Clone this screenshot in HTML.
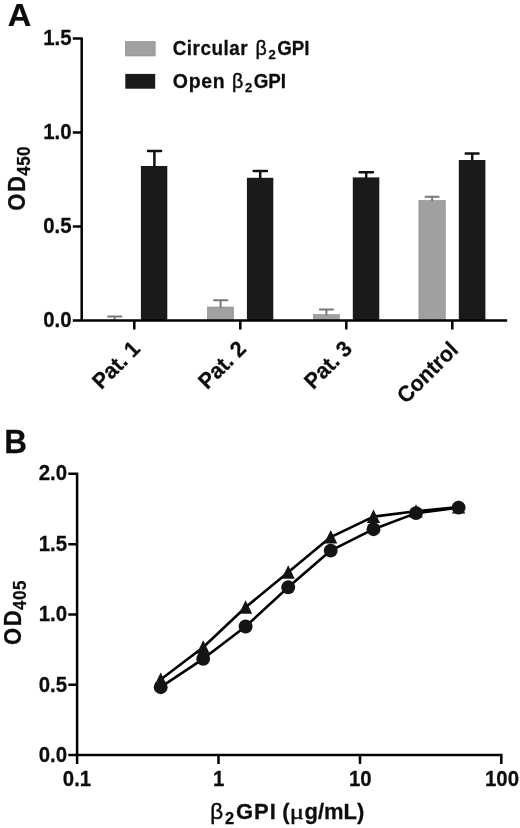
<!DOCTYPE html>
<html>
<head>
<meta charset="utf-8">
<title>Figure</title>
<style>
  html, body { margin: 0; padding: 0; background: #ffffff; }
  body { width: 520px; height: 828px; overflow: hidden; }
  svg { display: block; will-change: transform; opacity: 0.999; }
  text { font-family: "Liberation Sans", sans-serif; font-weight: bold; fill: #0d0d0d; stroke: #0d0d0d; stroke-width: 0.25; }
  .sym { font-family: "Liberation Serif", serif; font-weight: normal; stroke-width: 0.45; }
  .symb { font-family: "Liberation Sans", sans-serif; font-weight: normal; stroke-width: 0.45; }
  .ax { stroke: #000000; stroke-width: 2.5; fill: none; }
  .blk { fill: #1a1a1a; }
  .gry { fill: #a0a0a0; stroke: #8e8e8e; stroke-width: 0.6; }
  .eb { stroke: #101010; stroke-width: 2.5; fill: none; stroke-linecap: round; }
  .eg { stroke: #787878; stroke-width: 2.0; fill: none; stroke-linecap: round; }
  .ln { stroke: #000000; stroke-width: 2.6; fill: none; stroke-linejoin: round; }
  .pt { fill: #141414; }
</style>
</head>
<body>
<svg width="520" height="828" viewBox="0 0 520 828">
  <rect x="0" y="0" width="520" height="828" fill="#ffffff"/>

  <!-- ===== PANEL A ===== -->
  <text transform="translate(7.8,25.6) scale(1,0.985)" font-size="32.6">A</text>
  <g id="barsA">
    <rect class="blk" x="140.9" y="166" width="26.4" height="154.5"/>
    <path class="eb" d="M154.4 166V151.1M148.0 151.1H161.1"/>
    <path class="eg" d="M114.6 319V316.4M108.1 316.4H121.3"/>
    <rect class="gry" x="207.3" y="307" width="26.3" height="13.5"/>
    <path class="eg" d="M220.6 307V300.2M214.0 300.2H227.4"/>
    <rect class="blk" x="246.9" y="177.8" width="26.4" height="142.7"/>
    <path class="eb" d="M260.2 177.8V171M253.6 171H266.9"/>
    <rect class="gry" x="313.3" y="314.5" width="26.2" height="6.0"/>
    <path class="eg" d="M326.4 314.5V309.4M319.8 309.4H333.0"/>
    <rect class="blk" x="352.8" y="177.4" width="26.5" height="143.1"/>
    <path class="eb" d="M366.2 177.4V172.2M359.6 172.2H372.9"/>
    <rect class="gry" x="418.9" y="200.4" width="26.4" height="120.1"/>
    <path class="eg" d="M432.1 200.4V196.85M425.5 196.85H438.6"/>
    <rect class="blk" x="458.8" y="160" width="26.6" height="160.5"/>
    <path class="eb" d="M472.2 160V153.6M465.7 153.6H478.5"/>
  </g>
  <path class="ax" d="M81.7 37.4V320.5M72.8 38.6H81.7M72.8 132.5H81.7M72.8 226.5H81.7M72.8 320.5H507.2"/>
  <path class="ax" d="M134.3 320.5V329.6M240.3 320.5V329.6M346.3 320.5V329.6M452.3 320.5V329.6"/>
  <text transform="translate(71.5,45.2) scale(1,1.1)" font-size="20.4" text-anchor="end">1.5</text>
  <text transform="translate(71.5,139.3) scale(1,1.1)" font-size="20.4" text-anchor="end">1.0</text>
  <text transform="translate(71.5,233.3) scale(1,1.1)" font-size="20.4" text-anchor="end">0.5</text>
  <text transform="translate(71.5,327) scale(1,1.1)" font-size="20.4" text-anchor="end">0.0</text>
  <text transform="translate(25.05,210.7) rotate(-90) scale(1,1.097)" font-size="22" letter-spacing="1.6">OD</text>
  <text transform="translate(30.45,175.80) rotate(-90) scale(1,1.08)" font-size="17" letter-spacing="0.5">450</text>
  <text transform="translate(141.4,350.2) rotate(-45) scale(1,1.04)" font-size="21.3" text-anchor="end">Pat. 1</text>
  <text transform="translate(247.4,350.2) rotate(-45) scale(1,1.04)" font-size="21.3" text-anchor="end">Pat. 2</text>
  <text transform="translate(353.4,350.2) rotate(-45) scale(1,1.04)" font-size="21.3" text-anchor="end">Pat. 3</text>
  <text transform="translate(459.5,351.0) rotate(-45) scale(1,1.04)" font-size="21.3" text-anchor="end">Control</text>
  <rect class="gry" x="125.3" y="41.3" width="29.9" height="14.7"/>
  <rect class="blk" x="125.3" y="73.9" width="29.9" height="14.8"/>
  <text transform="translate(172.7,54.6) scale(1,1.04)" font-size="18.9" letter-spacing="0.52">Circular</text>
  <text class="symb" transform="translate(255.60,55.10)" font-size="19.6">β</text>
  <text transform="translate(268.4,59.0) scale(1,1.04)" font-size="12.6" textLength="7.3" lengthAdjust="spacingAndGlyphs">2</text>
  <text transform="translate(277.2,54.6) scale(1,1.04)" font-size="18.8">GPI</text>
  <text transform="translate(172.8,87.75) scale(1,1.057)" font-size="19.5" letter-spacing="0.7">Open</text>
  <text class="symb" transform="translate(232.10,88.10)" font-size="19.6">β</text>
  <text transform="translate(244.9,92.0) scale(1,1.04)" font-size="12.6" textLength="7.3" lengthAdjust="spacingAndGlyphs">2</text>
  <text transform="translate(253.7,87.6) scale(1,1.04)" font-size="18.8">GPI</text>
  <!-- ===== PANEL B ===== -->
  <text transform="translate(4.2,452.5) scale(1,1.04)" font-size="31.5">B</text>
  <path class="ax" d="M77.1 472.6V763.9M68.3 473.8H77.1M68.3 544.2H77.1M68.3 614.5H77.1M68.3 684.8H77.1M68.3 755.1H501.3V763.9M218.5 755.1V763.9M360.0 755.1V763.9"/>
  <text transform="translate(67,480.3) scale(1,1.1)" font-size="20.4" text-anchor="end">2.0</text>
  <text transform="translate(67,550.8) scale(1,1.1)" font-size="20.4" text-anchor="end">1.5</text>
  <text transform="translate(67,621.2) scale(1,1.1)" font-size="20.4" text-anchor="end">1.0</text>
  <text transform="translate(67,691.5) scale(1,1.1)" font-size="20.4" text-anchor="end">0.5</text>
  <text transform="translate(67,762) scale(1,1.1)" font-size="20.4" text-anchor="end">0.0</text>
  <text transform="translate(77,785.6) scale(1,1.1)" font-size="20.4" text-anchor="middle">0.1</text>
  <text transform="translate(218.6,785.6) scale(1,1.1)" font-size="20.4" text-anchor="middle">1</text>
  <text transform="translate(360.3,785.6) scale(1,1.1)" font-size="20.4" text-anchor="middle">10</text>
  <text transform="translate(502.0,785.6) scale(1,1.1)" font-size="20.4" text-anchor="middle">100</text>
  <text transform="translate(20.8,644.9) rotate(-90) scale(1,1.097)" font-size="22" letter-spacing="1.6">OD</text>
  <text transform="translate(26.20,610.00) rotate(-90) scale(1,1.08)" font-size="17" letter-spacing="0.5">405</text>
  <text class="symb" transform="translate(210.25,819.2)" font-size="22.4">β</text>
  <text transform="translate(225,823.9) scale(1,1.04)" font-size="16.5">2</text>
  <text transform="translate(235.9,818.7) scale(1,1.04)" font-size="22" letter-spacing="1">GPI</text>
  <text transform="translate(282.2,818.7) scale(1,1.04)" font-size="22">(</text>
  <text class="sym" transform="translate(289.7,818.75) scale(1.2,1)" font-size="22">μ</text>
  <text transform="translate(304.5,818.7) scale(1,1.04)" font-size="22">g/mL)</text>
  <polyline class="ln" points="160.7,679.5 203.2,647.2 245.6,607.3 288.2,572.2 330.7,537.1 373.5,516.6 416,511.2 458.6,507.0"/>
  <polyline class="ln" points="160.7,687.2 203.2,658.8 245.6,626.5 288.2,587.3 330.7,550.6 373.5,529.2 416,513.1 458.6,507.6"/>
  <g class="pt">
    <path d="M160.7 672.5l6.6 13.5h-13.2z"/>
    <path d="M203.2 640.2l6.6 13.5h-13.2z"/>
    <path d="M245.6 600.3l6.6 13.5h-13.2z"/>
    <path d="M288.2 565.2l6.6 13.5h-13.2z"/>
    <path d="M330.7 530.1l6.6 13.5h-13.2z"/>
    <path d="M373.5 509.6l6.6 13.5h-13.2z"/>
    <path d="M416 504.2l6.6 13.5h-13.2z"/>
    <path d="M458.6 500.0l6.6 13.5h-13.2z"/>
    <circle cx="160.7" cy="687.2" r="6.95"/>
    <circle cx="203.2" cy="658.8" r="6.95"/>
    <circle cx="245.6" cy="626.5" r="6.95"/>
    <circle cx="288.2" cy="587.3" r="6.95"/>
    <circle cx="330.7" cy="550.6" r="6.95"/>
    <circle cx="373.5" cy="529.2" r="6.95"/>
    <circle cx="416" cy="513.1" r="6.95"/>
    <circle cx="458.6" cy="507.6" r="6.95"/>
  </g>
</svg>
</body>
</html>
